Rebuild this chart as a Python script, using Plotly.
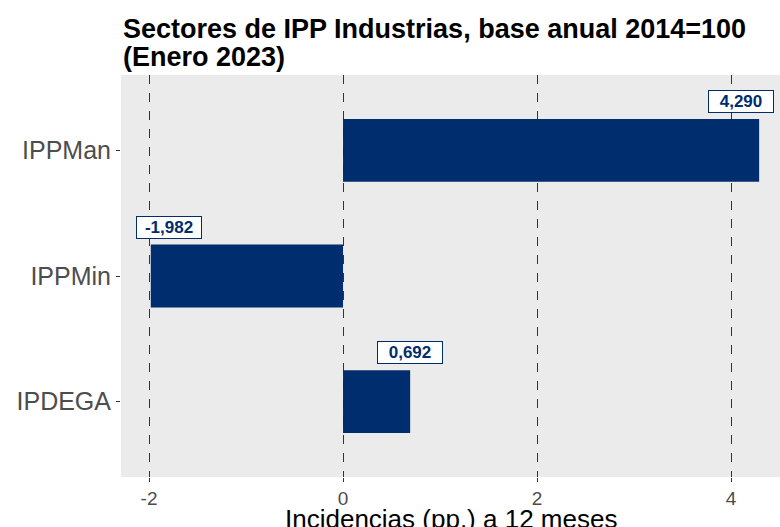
import plotly.graph_objects as go

categories = ["IPPMan", "IPPMin", "IPDEGA"]
values = [4.290, -1.982, 0.692]
value_labels = ["4,290", "-1,982", "0,692"]
x_ticks = [-2, 0, 2, 4]
x_tick_labels = ["-2", "0", "2", "4"]
title_lines = ["Sectores de IPP Industrias, base anual 2014=100", "(Enero 2023)"]
x_title = "Incidencias (pp.) a 12 meses"

navy = "#002D6E"
FONT = "Liberation Sans, Arial, sans-serif"

fig = go.Figure()
fig.add_trace(go.Bar(
    x=values, y=categories, orientation="h", width=0.5,
    marker=dict(color=navy, line=dict(width=0)),
    hoverinfo="skip", showlegend=False,
))

for v, c, lab in zip(values, categories, value_labels):
    if v > 2:
        xs = -18
    elif v < 0:
        xs = 18
    else:
        xs = 0
    fig.add_annotation(
        x=v, y=c, xref="x", yref="y", text="<b>%s</b>" % lab,
        showarrow=False, xshift=xs, yshift=49,
        font=dict(family=FONT, size=17, color=navy),
        bgcolor="white", bordercolor=navy, borderwidth=1, borderpad=1,
        width=62, height=19,
    )

for i, line in enumerate(title_lines):
    fig.add_annotation(
        xref="paper", yref="paper", x=0, y=1, xanchor="left", yanchor="middle",
        yshift=46 - 28 * i, align="left", showarrow=False,
        text="<b>%s</b>" % line,
        font=dict(family=FONT, size=27, color="black"),
    )

fig.add_annotation(
    xref="paper", yref="paper", x=0.5, y=0, xanchor="center", yanchor="middle",
    yshift=-42, showarrow=False,
    text=x_title,
    font=dict(family=FONT, size=26, color="black"),
)

fig.update_layout(
    width=780, height=527,
    margin=dict(l=121, r=0, t=75, b=50, autoexpand=False),
    paper_bgcolor="white", plot_bgcolor="#EBEBEB",
    font=dict(family=FONT),
)
fig.update_xaxes(
    range=[-2.289, 4.505], tickvals=x_ticks, ticktext=x_tick_labels,
    showgrid=True, gridcolor="#333333", gridwidth=1, griddash="dash",
    zeroline=False, ticks="outside", ticklen=4, tickcolor="#333333",
    tickfont=dict(size=19, color="#4D4D4D"),
    automargin=False, showline=False,
)
fig.update_yaxes(
    categoryorder="array", categoryarray=categories,
    range=[2.6, -0.6], showgrid=False, zeroline=False,
    ticks="outside", ticklen=4, tickcolor="#333333",
    tickfont=dict(size=25, color="#4D4D4D"), showline=False,
    automargin=False,
)

fig.write_html(
    "out.html",
    config={"displayModeBar": False},
    post_script="document.body.style.margin='0';document.body.style.overflow='hidden';",
)
